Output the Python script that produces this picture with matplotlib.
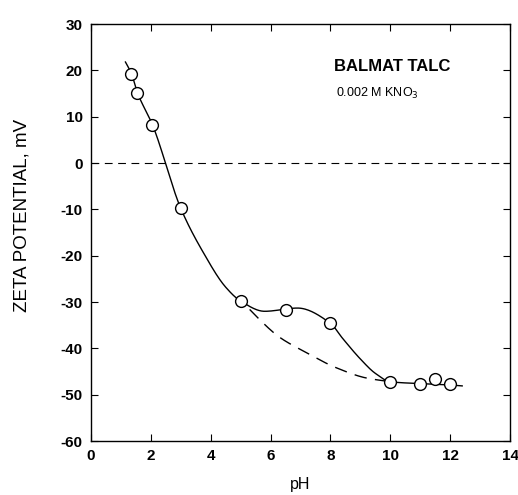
import numpy as np
import matplotlib.pyplot as plt

plt.rcParams['font.family'] = ['Liberation Sans', 'DejaVu Sans']
plt.rcParams['axes.unicode_minus'] = False

# measured points
ph = [1.35, 1.55, 2.05, 3.0, 5.0, 6.5, 8.0, 10.0, 11.0, 11.5, 12.0]
zeta = [19.3, 15.2, 8.3, -9.8, -29.8, -31.7, -34.6, -47.2, -47.7, -46.6, -47.7]

# hand-drawn smooth curve through the data
curve_ph = [1.15, 1.35, 1.55, 2.05, 3.0, 3.75, 4.5, 5.0, 5.8, 6.9, 8.0, 8.4, 9.0, 9.5, 10.0, 11.0, 12.0, 12.4]
curve_zeta = [21.8, 19.3, 15.2, 8.3, -9.8, -19.3, -26.8, -29.8, -32.0, -31.3, -34.6, -37.8, -42.3, -45.4, -47.2, -47.6, -47.9, -48.1]

# dashed curve (no hump)
dash_ph = [5.3, 5.6, 6.3, 7.1, 8.2, 9.2, 10.0]
dash_zeta = [-31.6, -33.6, -37.6, -40.6, -44.2, -46.4, -47.2]


def pchip(x, y, n=30):
    # shape-preserving cubic Hermite through the knots
    x = np.asarray(x, float)
    y = np.asarray(y, float)
    h = np.diff(x)
    d = np.diff(y) / h
    m = np.zeros_like(y)
    for i in range(1, len(x) - 1):
        if d[i - 1] * d[i] > 0:
            w1 = 2 * h[i] + h[i - 1]
            w2 = h[i] + 2 * h[i - 1]
            m[i] = (w1 + w2) / (w1 / d[i - 1] + w2 / d[i])
    m[0] = d[0]
    m[-1] = d[-1]
    xs, ys = [], []
    t = np.linspace(0, 1, n, endpoint=False)
    for i in range(len(h)):
        h00 = 2 * t ** 3 - 3 * t ** 2 + 1
        h10 = t ** 3 - 2 * t ** 2 + t
        h01 = -2 * t ** 3 + 3 * t ** 2
        h11 = t ** 3 - t ** 2
        xs.extend(x[i] + t * h[i])
        ys.extend(h00 * y[i] + h10 * h[i] * m[i] + h01 * y[i + 1] + h11 * h[i] * m[i + 1])
    xs.append(x[-1])
    ys.append(y[-1])
    return np.array(xs), np.array(ys)


fig = plt.figure(figsize=(5.18, 4.95), dpi=100)
ax = fig.add_axes([0.1757, 0.109, 0.809, 0.8425])

cx, cy = pchip(curve_ph, curve_zeta)
ax.plot(cx, cy, color='black', lw=1.0)
dx, dy = pchip(dash_ph, dash_zeta)
ax.plot(dx, dy, color='black', lw=1.0, dashes=(9, 6))
ax.axhline(0, color='black', lw=0.8, dashes=(7, 5))
ax.plot(ph, zeta, 'o', ms=8.5, mfc='white', mec='black', mew=1.0, zorder=3)

ax.set_xlim(0, 14)
ax.set_ylim(-60, 30)
ax.set_xticks(range(0, 15, 2))
ax.set_yticks(range(-60, 31, 10))
ax.tick_params(direction='in', top=True, right=True, length=5, width=0.8,
               labelsize=11, pad=6)
for lab in ax.get_xticklabels() + ax.get_yticklabels():
    lab.set_fontweight('bold')
for s in ax.spines.values():
    s.set_linewidth(1.0)

ax.set_xlabel('pH', fontsize=11.5, labelpad=10)
ax.set_ylabel('ZETA POTENTIAL, mV', fontsize=13.5)
ax.yaxis.set_label_coords(-0.145, 0.54)

ax.text(10.05, 20.9, 'BALMAT TALC', fontsize=12, fontweight='bold',
        ha='center', va='center')
ax.text(9.55, 15.1, '0.002 M KNO$_3$', fontsize=9, ha='center', va='center')

plt.savefig('out.png', dpi=100)
